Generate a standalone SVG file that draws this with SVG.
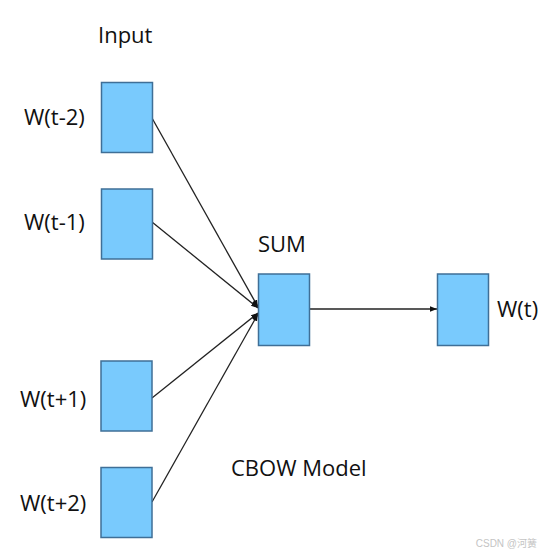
<svg xmlns="http://www.w3.org/2000/svg" width="540" height="554" viewBox="0 0 540 554">
<style>
.box{fill:#79CAFD;stroke:#3F6F97;stroke-width:1.5}
.lbl{font-family:"Open Sans","Noto Sans","DejaVu Sans",sans-serif;font-size:22px;fill:#111}
.edge{stroke:#222;stroke-width:1.3;fill:none;marker-end:url(#ah)}
.wm{font-family:"Liberation Sans","Noto Sans CJK SC",sans-serif;font-size:10px;fill:#c4c4c4}
</style>
<defs>
<marker id="ah" viewBox="0 0 10 10" refX="10" refY="5" markerWidth="7" markerHeight="7" markerUnits="userSpaceOnUse" orient="auto">
<path d="M0,1 L10,5 L0,9 Z" fill="#111"/>
</marker>
</defs>
<rect width="540" height="554" fill="#fff"/>
<text class="lbl" x="98" y="43">Input</text>
<g id="connectors">
<line class="edge" x1="152" y1="118" x2="258" y2="307"/>
<line class="edge" x1="152" y1="222" x2="258" y2="308"/>
<line class="edge" x1="152" y1="398" x2="258" y2="313"/>
<line class="edge" x1="152" y1="502" x2="258" y2="314"/>
<line class="edge" x1="309" y1="309" x2="437" y2="309"/>
</g>
<g id="n_tm2">
<rect class="box" x="101.5" y="82.5" width="51" height="70"/>
<text class="lbl" x="24" y="125">W(t-2)</text>
</g>
<g id="n_tm1">
<rect class="box" x="101.5" y="189" width="51" height="70"/>
<text class="lbl" x="24" y="230">W(t-1)</text>
</g>
<g id="n_tp1">
<rect class="box" x="101" y="361" width="51" height="70"/>
<text class="lbl" x="20" y="407">W(t+1)</text>
</g>
<g id="n_tp2">
<rect class="box" x="101" y="467.5" width="51" height="70"/>
<text class="lbl" x="20" y="511">W(t+2)</text>
</g>
<g id="n_sum">
<rect class="box" x="258.5" y="274" width="51" height="71.5"/>
<text class="lbl" x="258" y="252">SUM</text>
</g>
<g id="n_out">
<rect class="box" x="437.5" y="274" width="51" height="71.5"/>
<text class="lbl" x="497" y="317">W(t)</text>
</g>
<text class="lbl" x="231" y="476">CBOW Model</text>
<text class="wm" x="537" y="547" text-anchor="end">CSDN @河簧</text>
</svg>
